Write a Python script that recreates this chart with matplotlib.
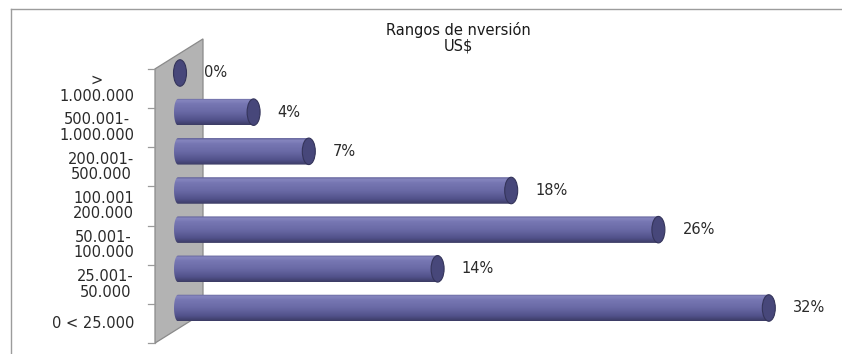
import numpy as np
import matplotlib
matplotlib.use("Agg")
import matplotlib.pyplot as plt
from matplotlib.patches import Polygon, Ellipse
from matplotlib.colors import LinearSegmentedColormap
from matplotlib.lines import Line2D

# Investment ranges (bottom to top) and share of projects, %
rangos = ["0 < 25.000", "25.001-\n50.000", "50.001-\n100.000", "100.001\n200.000",
          "200.001-\n500.000", "500.001-\n1.000.000", ">\n1.000.000"]
porcentaje = [32, 14, 26, 18, 7, 4, 0]
etiquetas = ["32%", "14%", "26%", "18%", "7%", "4%", "0%"]
titulo = "Rangos de nversión\nUS$"

W, H = 842, 354
fig = plt.figure(figsize=(W / 100, H / 100), dpi=100)
fig.patch.set_facecolor("white")
ax = fig.add_axes([0, 0, 1, 1])
ax.set_axis_off()

# pixel scale of the plot: 18.4 px per percent, 39.17 px per category
px_x, x_org = 18.4, 180.0
px_y, y_org = 39.17, 46.0

# 3D depth offset of the chart (back plane relative to the front plane)
depth_x = 48 / px_x
depth_y = 30 / px_y
shift = 15.5 / px_y          # bars sit in the back half of each slot
n = len(rangos)

# gray wall on the left
wall_x = (155 - x_org) / px_x
y_lo, y_hi = -0.5 - shift, n - 0.5 - shift
wall = Polygon([(wall_x, y_lo), (wall_x, y_hi),
                (wall_x + depth_x, y_hi + depth_y), (wall_x + depth_x, y_lo + depth_y)],
               closed=True, facecolor="#b3b3b3", edgecolor="#8a8a8a", lw=0.9, zorder=1)
ax.add_patch(wall)

# category tick marks on the front edge
tick_len = 7 / px_x
for k in range(n + 1):
    yy = -0.5 - shift + k
    ax.add_line(Line2D([wall_x - tick_len, wall_x], [yy, yy], color="#9a9a9a", lw=0.9, zorder=1))

for i, lab in enumerate(rangos):
    ax.text((134 - x_org) / px_x, i - shift, lab, ha="right", va="center",
            multialignment="center", fontsize=10.5, color="#2a2a2a",
            family="DejaVu Sans", linespacing=1.05, zorder=3)

# cylinders
cyl_cmap = LinearSegmentedColormap.from_list(
    "cyl", [(0.0, "#3c3c64"), (0.18, "#51518a"), (0.5, "#6a6aa6"),
            (0.8, "#7777b3"), (0.92, "#8686bf"), (1.0, "#5f5f97")])
grad = np.linspace(0, 1, 64).reshape(-1, 1)
bar_h = 26.5 / px_y
cap_w = 13 / px_x
x_left = (174 - x_org) / px_x
r_left = 4 / px_x

for i, (v, lab) in enumerate(zip(porcentaje, etiquetas)):
    y0, y1 = i - bar_h / 2, i + bar_h / 2
    if v > 0:
        th = np.linspace(np.pi / 2, 3 * np.pi / 2, 30)
        pts = np.column_stack([x_left + r_left + r_left * np.cos(th), i + bar_h / 2 * np.sin(th)])
        pts = np.vstack([pts, [(v, y0), (v, y1)]])
        body = Polygon(pts, closed=True, facecolor="none", edgecolor="none", zorder=2)
        ax.add_patch(body)
        im = ax.imshow(grad, cmap=cyl_cmap, origin="lower", aspect="auto",
                       extent=(x_left, v, y0, y1), zorder=2, interpolation="bilinear")
        im.set_clip_path(body)
    cap = Ellipse((v, i), cap_w, bar_h, facecolor="#47477a", edgecolor="#34345a",
                  lw=0.8, zorder=2.5)
    ax.add_patch(cap)
    ax.annotate(lab, (v, i), xytext=(24, 0), textcoords="offset pixels",
                ha="left", va="center", fontsize=10.5, color="#2a2a2a",
                family="DejaVu Sans", zorder=3)

ax.set_xlim(-x_org / px_x, (W - x_org) / px_x)
ax.set_ylim(-y_org / px_y, (H - y_org) / px_y)

fig.text(458 / W, 1 - 38 / H, titulo, ha="center", va="center", multialignment="center",
         fontsize=10.5, color="#1a1a1a", family="DejaVu Sans", linespacing=1.0)

# chart frame (top and left edges)
fig.add_artist(Line2D([11 / W, 1], [1 - 8.5 / H, 1 - 8.5 / H], transform=fig.transFigure,
                      color="#9c9c9c", lw=1.0))
fig.add_artist(Line2D([11 / W, 11 / W], [1 - 8.5 / H, 0], transform=fig.transFigure,
                      color="#9c9c9c", lw=1.0))

fig.savefig("out.png", dpi=100, facecolor="white")
